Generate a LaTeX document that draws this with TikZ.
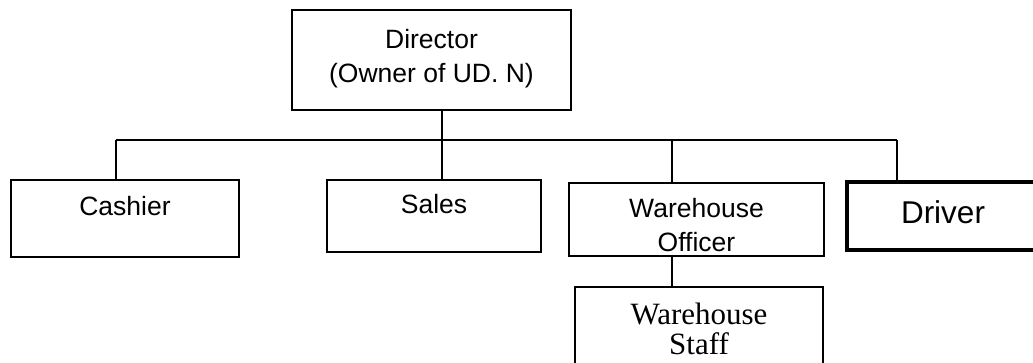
\documentclass[tikz,border=0pt]{standalone}
\usepackage{fontspec}
\setmainfont{Liberation Sans}
\newfontfamily\serifface{Liberation Serif}
\begin{document}
\begin{tikzpicture}[x=1pt, y=-1pt,
    box/.style={rectangle, draw, line width=1.2pt, inner sep=0pt, outer sep=0pt, align=center, font=\fontsize{26.5}{34}\selectfont},
    link/.style={line width=1.2pt}]
  \useasboundingbox (0,0) rectangle (1033,362);
  % boxes
  \node[box, anchor=north, minimum width=279, text height=72, text depth=28] (director) at (431.5,10) {Director\\(Owner of UD. N)};
  \node[box, anchor=north, minimum width=228, text height=35, text depth=42] (cashier) at (125,180) {Cashier};
  \node[box, anchor=north, minimum width=214, text height=33, text depth=39] (sales) at (434,180) {Sales};
  \node[box, anchor=north, minimum width=255, text height=68, text depth=5] (officer) at (696.5,183) {Warehouse\\Officer};
  \node[box, anchor=north, minimum width=192, text height=41, text depth=27, line width=4pt, font=\fontsize{31.5}{36}\selectfont] (driver) at (943,182) {Driver};
  \node[box, anchor=north, minimum width=248, text height=67, text depth=32, font=\serifface\fontsize{31}{30}\selectfont] (staff) at (699,287) {Warehouse\\Staff};
  % joints on the bus line
  \coordinate (jcash) at (116,140);
  \coordinate (jdir) at (442,140);
  \coordinate (joff) at (672,140);
  \coordinate (jdrv) at (897,140);
  % connectors
  \draw[link] (jcash) -- (jdrv);
  \draw[link] (jdir |- director.south) -- (jdir |- sales.north);
  \draw[link] (jcash) -- (jcash |- cashier.north);
  \draw[link] (joff) -- (joff |- officer.north);
  \draw[link] (jdrv) -- (jdrv |- driver.north);
  \draw[link] (joff |- officer.south) -- (joff |- staff.north);
\end{tikzpicture}
\end{document}
